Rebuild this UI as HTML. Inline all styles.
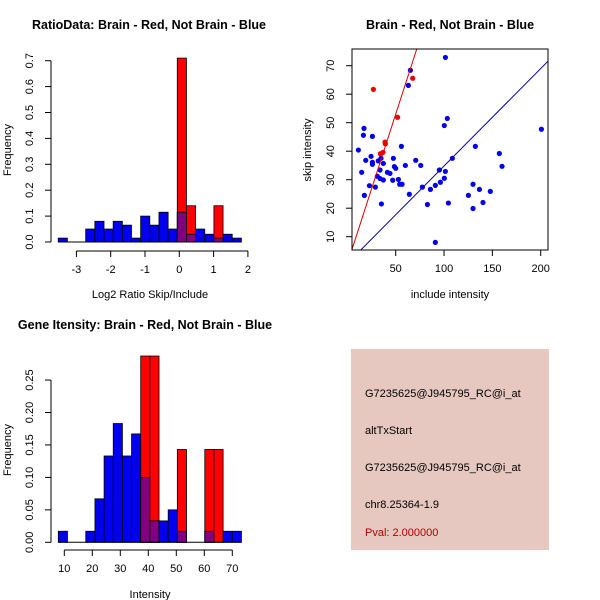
<!DOCTYPE html>
<html><head><meta charset="utf-8"><style>
body{margin:0;background:#fff}
svg{display:block;font-family:"Liberation Sans",sans-serif}
</style></head><body>
<svg id="root" width="600" height="600" viewBox="0 0 600 600">
<rect x="0" y="0" width="600" height="600" fill="#fff"/>
<g id="p1"></g>
<g id="p2"></g>
<g id="p3"></g>
<g>
<rect x="351" y="349" width="198" height="201" fill="#e6c8c0"/>
<text x="365" y="397" font-size="11" fill="#000">G7235625@J945795_RC@i_at</text>
<text x="365" y="434" font-size="11" fill="#000">altTxStart</text>
<text x="365" y="471" font-size="11" fill="#000">G7235625@J945795_RC@i_at</text>
<text x="365" y="508" font-size="11" fill="#000">chr8.25364-1.9</text>
<text x="365" y="536" font-size="11" fill="#b00000">Pval: 2.000000</text>
</g>
</svg>
<script>
// ---- data: ratio histogram ----
const ratioStart = -3.53;
const ratioWidth = 0.267;
const ratioBlue = [0.015,0,0,0.05,0.08,0.05,0.08,0.065,0.015,0.1,0.065,0.115,0.05,0.115,0.03,0.05,0.03,0.015,0.03,0.015];
const ratioRed  = [0,0,0,0,0,0,0,0,0,0,0,0,0,0.71,0.14,0,0,0.14,0,0];
const ratioXTicks = [-3,-2,-1,0,1,2];
const ratioYTicks = [0,0.1,0.2,0.3,0.4,0.5,0.6,0.7];
// ---- data: scatter ----
const blueX = [11.4,14.8,17.2,16.6,17.6,19,22.8,24.5,25.9,25.9,25.9,29,31,32,33.8,34.8,35.2,33.8,37.2,37.2,41.4,44.1,46.9,47.6,48.6,50,52.8,54.1,56.6,55.9,60,64.1,63.1,65.2,70.7,75.9,77.6,82.8,85.9,91,91,95.2,96.2,100.3,100.3,101.4,101.4,103.4,104.5,108.6,125.2,130,130,132.4,136.6,140.3,147.9,157.2,160,200.7];
const blueY = [40.4,32.6,48,45.6,24.5,36.8,27.9,38.2,45.2,36.1,35.4,27.4,31.2,36.6,33.4,37.5,21.5,30.4,35.7,29.9,32.6,32.2,29.8,37.5,34.6,34,30.1,28.4,28.4,41.7,35,24.9,63.1,68.4,36.8,35,27.4,21.3,26.6,28,8,33.4,29.1,30.5,49,32.9,72.9,51.5,21.8,37.5,24.5,28.4,19.9,41.7,26.6,22,25.9,39.2,34.7,47.7];
const redX = [26.9,52,67.6,39,39.3,34.1,36.9];
const redY = [61.7,51.9,65.6,43.2,42.6,39.1,39.6];
const redLine = [0.5,1.05];   // intercept, slope
const blueLine = [0.6,0.342];
const scXTicks = [50,100,150,200];
const scYTicks = [10,20,30,40,50,60,70];
// ---- data: gene intensity histogram ----
const geneStart = 7.86;
const geneWidth = 3.27;
const geneBlue = [0.017,0,0,0.017,0.067,0.133,0.183,0.133,0.167,0.1,0.033,0.033,0.05,0.017,0,0,0.017,0,0.017,0.017];
const geneRed  = [0,0,0,0,0,0,0,0,0,0.287,0.287,0,0,0.143,0,0,0.143,0.143,0,0];
const geneXTicks = [10,20,30,40,50,60,70];
const geneYTicks = [0,0.05,0.10,0.15,0.20,0.25];
const geneYLabels = ["0.00","0.05","0.10","0.15","0.20","0.25"];

const NS="http://www.w3.org/2000/svg";
function mk(parent,tag,attrs,txt){const e=document.createElementNS(NS,tag);for(const k in attrs)e.setAttribute(k,attrs[k]);if(txt!==undefined)e.textContent=txt;parent.appendChild(e);return e;}

function hist(g,o){
  const sx=v=>o.x0+(v-o.xv0)*o.kx, sy=v=>o.y0-v*o.ky;
  for(let i=0;i<o.blue.length;i++){
    const a=o.start+i*o.width,b=a+o.width;
    const x1=sx(a),x2=sx(b);
    const bv=o.blue[i], rv=o.red[i];
    if(bv>0){const r=mk(g,'rect',{x:x1,y:sy(bv),width:x2-x1,height:sy(0)-sy(bv),fill:'#0000ee',stroke:'#000','stroke-width':0.8});
      
      }
    if(rv>0){const r=mk(g,'rect',{x:x1,y:sy(rv),width:x2-x1,height:sy(0)-sy(rv),fill:'#ff0000',stroke:'#000','stroke-width':0.8});
      
      
      const m=Math.min(bv,rv);
      if(m>0){const p=mk(g,'rect',{x:x1,y:sy(m),width:x2-x1,height:sy(0)-sy(m),fill:'#800080',stroke:'#000','stroke-width':0.8});
        
        }}
  }
  mk(g,'line',{x1:sx(o.start),x2:sx(o.start+o.blue.length*o.width),y1:sy(0),y2:sy(0),stroke:'#000'});
  const ax=o.yAxisX;
  mk(g,'line',{x1:ax,x2:ax,y1:sy(o.yt[0]),y2:sy(o.yt[o.yt.length-1]),stroke:'#000'});
  o.yt.forEach((t,i)=>{const y=sy(t);mk(g,'line',{x1:ax-6,x2:ax,y1:y,y2:y,stroke:'#000'});
    const tx=mk(g,'text',{x:ax-18,y:y,'font-size':11,'text-anchor':'middle',transform:`rotate(-90 ${ax-18} ${y})`,fill:'#000'},o.yl[i]);
    
    });
  const ay=o.xAxisY;
  mk(g,'line',{x1:sx(o.xt[0]),x2:sx(o.xt[o.xt.length-1]),y1:ay,y2:ay,stroke:'#000'});
  o.xt.forEach(t=>{const x=sx(t);mk(g,'line',{x1:x,x2:x,y1:ay,y2:ay+6,stroke:'#000'});
    const tx=mk(g,'text',{x:x,y:ay+22,'font-size':11,'text-anchor':'middle',fill:'#000'},String(t));
    
    });
}

// Plot 1
const g1=document.getElementById('p1');
hist(g1,{x0:179.3,xv0:0,kx:34.3,y0:242,ky:259,start:ratioStart,width:ratioWidth,blue:ratioBlue,red:ratioRed,
  yt:ratioYTicks,yl:ratioYTicks.map(v=>v.toFixed(1)),xt:ratioXTicks,yAxisX:51,xAxisY:251});
let t=mk(g1,'text',{x:149,y:29,'font-size':12.5,'font-weight':'bold','text-anchor':'middle'},'RatioData: Brain - Red, Not Brain - Blue');

t=mk(g1,'text',{x:150,y:298,'font-size':11,'text-anchor':'middle'},'Log2 Ratio Skip/Include');

t=mk(g1,'text',{x:11,y:150,'font-size':11,'text-anchor':'middle',transform:'rotate(-90 11 150)'},'Frequency');


// Plot 3
const g3=document.getElementById('p3');
hist(g3,{x0:64.3,xv0:10,kx:2.8,y0:542.3,ky:649,start:geneStart,width:geneWidth,blue:geneBlue,red:geneRed,
  yt:geneYTicks,yl:geneYLabels,xt:geneXTicks,yAxisX:51,xAxisY:550});
t=mk(g3,'text',{x:145,y:329,'font-size':12.5,'font-weight':'bold','text-anchor':'middle'},'Gene Itensity: Brain - Red, Not Brain - Blue');

t=mk(g3,'text',{x:150,y:598,'font-size':11,'text-anchor':'middle'},'Intensity');

t=mk(g3,'text',{x:11,y:450,'font-size':11,'text-anchor':'middle',transform:'rotate(-90 11 450)'},'Frequency');


// Plot 2 scatter
const g2=document.getElementById('p2');
const L=352,R=548,T=49,B=250;
const sx=v=>395.7+(v-50)*0.9667, sy=v=>65.7-(v-70)*2.85;
mk(g2,'defs',{}).innerHTML='<clipPath id="clp"><rect x="352" y="49" width="196" height="201"/></clipPath>';
const cg=mk(g2,'g',{'clip-path':'url(#clp)'});
const ln=(c,col,name)=>{const x1=0,x2=220;const l=mk(cg,'line',{x1:sx(x1),y1:sy(c[0]+c[1]*x1),x2:sx(x2),y2:sy(c[0]+c[1]*x2),stroke:col,'stroke-width':1});
  };
blueX.forEach((x,i)=>{const c=mk(cg,'circle',{cx:sx(x),cy:sy(blueY[i]),r:2.6,fill:'#0000ee'});
  });
redX.forEach((x,i)=>{const c=mk(cg,'circle',{cx:sx(x),cy:sy(redY[i]),r:2.6,fill:'#ee0000'});
  });
ln(redLine,'#dd0000','red-fit-line');
ln(blueLine,'#000099','blue-fit-line');
mk(g2,'rect',{x:L,y:T,width:R-L,height:B-T,fill:'none',stroke:'#000'});
scXTicks.forEach(v=>{const x=sx(v);mk(g2,'line',{x1:x,x2:x,y1:B,y2:B+6,stroke:'#000'});
  const tx=mk(g2,'text',{x:x,y:B+22,'font-size':11,'text-anchor':'middle'},String(v));
  });
scYTicks.forEach(v=>{const y=sy(v);mk(g2,'line',{x1:L-6,x2:L,y1:y,y2:y,stroke:'#000'});
  const tx=mk(g2,'text',{x:L-18,y:y,'font-size':11,'text-anchor':'middle',transform:`rotate(-90 ${L-18} ${y})`},String(v));
  });
t=mk(g2,'text',{x:450,y:29,'font-size':12.5,'font-weight':'bold','text-anchor':'middle'},'Brain - Red, Not Brain - Blue');

t=mk(g2,'text',{x:450,y:298,'font-size':11,'text-anchor':'middle'},'include intensity');

t=mk(g2,'text',{x:311,y:150,'font-size':11,'text-anchor':'middle',transform:'rotate(-90 311 150)'},'skip intensity');

</script>
</body></html>
